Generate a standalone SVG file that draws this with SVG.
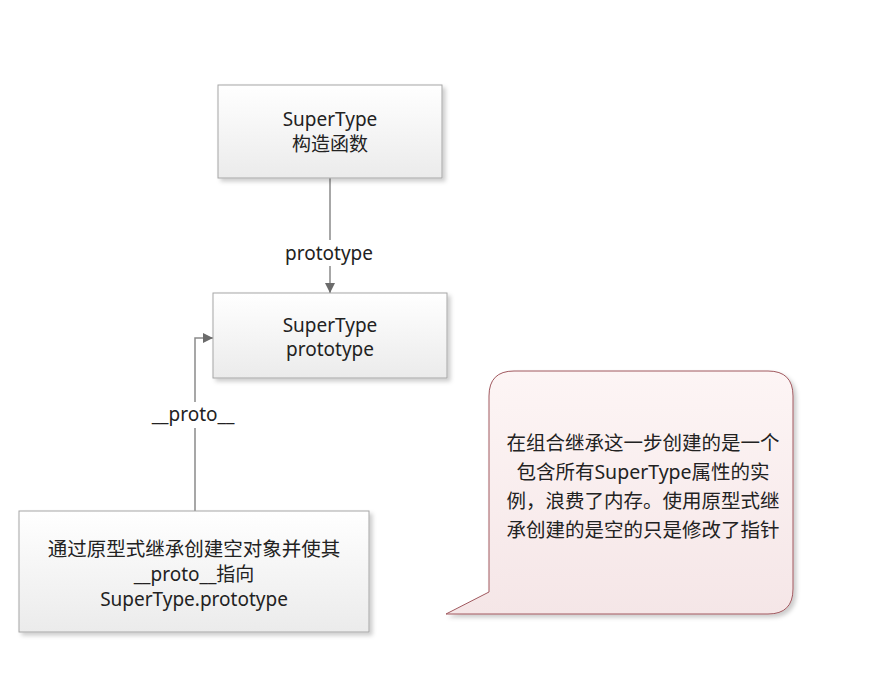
<svg xmlns="http://www.w3.org/2000/svg" width="872" height="698" viewBox="0 0 872 698">
<defs>
<linearGradient id="g" x1="0" y1="0" x2="0" y2="1"><stop offset="0" stop-color="#ffffff"/><stop offset="1" stop-color="#ebebeb"/></linearGradient>
<linearGradient id="p" x1="0" y1="0" x2="0" y2="1"><stop offset="0" stop-color="#fdf5f5"/><stop offset="1" stop-color="#f5e6e7"/></linearGradient>
<filter id="s" x="-10%" y="-10%" width="130%" height="130%"><feDropShadow dx="3" dy="3" stdDeviation="2" flood-color="#000" flood-opacity="0.2"/></filter>
<marker id="a" viewBox="0 0 10 10" refX="10" refY="5" markerWidth="10" markerHeight="10" markerUnits="userSpaceOnUse" orient="auto"><path d="M0,0 L10,5 L0,10 z" fill="#6b6b6b"/></marker>
</defs>
<style>
.box{fill:url(#g);stroke:#a6a6a6;stroke-width:1;filter:url(#s)}
.t{font-family:"Noto Sans","Open Sans","Noto Sans CJK SC",sans-serif;font-size:19px;fill:#222;text-anchor:middle}
.c{font-family:"Noto Sans","Noto Sans CJK SC",sans-serif;font-size:19.5px;fill:#222;text-anchor:middle}
.w{font-size:19.5px}
.l{stroke:#8a8a8a;stroke-width:1.5;fill:none;marker-end:url(#a)}
</style>
<rect width="872" height="698" fill="#fff"/>
<g id="connectors">
<path class="l" d="M330,178 V293"/>
<rect x="278" y="240" width="104" height="26" fill="#fff"/>
<text class="t" x="329" y="260">prototype</text>
<path class="l" d="M195,511 V338 H213"/>
<rect x="145" y="402" width="98" height="26" fill="#fff"/>
<text class="t" x="193" y="421">__proto__</text>
</g>
<g id="n1"><rect class="box" x="218" y="85" width="224" height="93"/>
<text class="t" x="330" y="126">SuperType</text><text class="t" x="330" y="151">构造函数</text></g>
<g id="n2"><rect class="box" x="213" y="293" width="234" height="85"/>
<text class="t" x="330" y="332">SuperType</text><text class="t" x="330" y="356">prototype</text></g>
<g id="n3"><rect class="box" x="19" y="511" width="350" height="121"/>
<text class="t w" x="194" y="556">通过原型式继承创建空对象并使其</text><text class="t" x="194" y="581">__proto__指向</text><text class="t" x="194" y="606">SuperType.prototype</text></g>
<g id="note"><path d="M514,371 H768 Q793,371 793,396 V589 Q793,614 768,614 H446 L489,592 V396 Q489,371 514,371 Z" fill="url(#p)" stroke="#a0585e" stroke-width="1" filter="url(#s)"/>
<text class="c" x="643" y="450">在组合继承这一步创建的是一个</text>
<text class="c" x="643" y="479">包含所有SuperType属性的实</text>
<text class="c" x="643" y="508">例，浪费了内存。使用原型式继</text>
<text class="c" x="643" y="537">承创建的是空的只是修改了指针</text></g>
</svg>
